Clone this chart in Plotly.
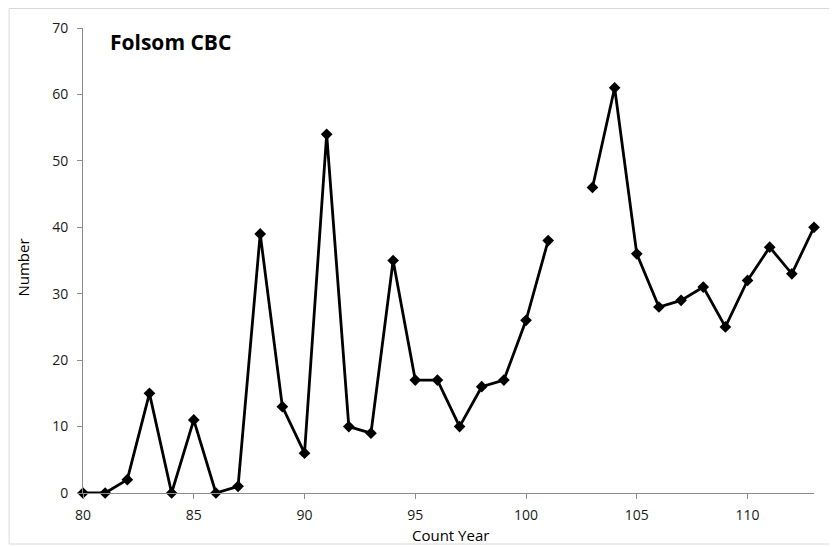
import plotly.graph_objects as go

years = list(range(80, 114))
counts = [0, 0, 2, 15, 0, 11, 0, 1, 39, 13, 6, 54, 10, 9, 35, 17, 17, 10, 16, 17, 26, 38,
          None, 46, 61, 36, 28, 29, 31, 25, 32, 37, 33, 40]
x_ticks = [80, 85, 90, 95, 100, 105, 110]
y_ticks = [0, 10, 20, 30, 40, 50, 60, 70]

L, T, W, H = 74.5, 20, 732, 465
R = 837 - L - W
B = 547 - T - H

def px(xp):
    return (xp - L) / W

def py(yp):
    return 1 - (yp - T) / H

fig = go.Figure()
fig.add_trace(go.Scatter(
    x=years, y=counts, mode="lines+markers",
    line=dict(color="black", width=2.8),
    marker=dict(symbol="diamond", size=9, color="black"),
    connectgaps=False, showlegend=False, cliponaxis=False,
))

font_family = "Open Sans, Liberation Sans, sans-serif"
axis_common = dict(
    showgrid=False, zeroline=False,
    showline=True, linecolor="#8c8c8c", linewidth=1,
    ticks="outside", ticklen=5, tickcolor="#8c8c8c",
    tickfont=dict(size=14, color="#1a1a1a"),
)
fig.update_layout(
    width=837, height=547,
    margin=dict(l=L, r=R, t=T, b=B, autoexpand=False),
    paper_bgcolor="white", plot_bgcolor="white",
    font=dict(family=font_family, size=14, color="black"),
    xaxis=dict(range=[80, 113], tickvals=x_ticks, ticklabelstandoff=4, **axis_common),
    yaxis=dict(range=[0, 70], tickvals=y_ticks, ticklabelstandoff=6, **axis_common),
    annotations=[
        dict(text="<b>Folsom CBC</b>", xref="paper", yref="paper",
             x=px(100), y=py(34), xanchor="left", yanchor="middle", showarrow=False,
             font=dict(size=21, family=font_family, color="black")),
        dict(text="Number", xref="paper", yref="paper", textangle=-90,
             x=px(14), y=py(260), xanchor="center", yanchor="middle", showarrow=False,
             font=dict(size=15, family=font_family, color="black")),
        dict(text="Count Year", xref="paper", yref="paper",
             x=px(443), y=py(527), xanchor="center", yanchor="middle", showarrow=False,
             font=dict(size=15, family=font_family, color="black")),
    ],
    shapes=[dict(
        type="rect", xref="paper", yref="paper",
        x0=px(0.5), x1=px(828), y0=py(536), y1=py(0.5),
        line=dict(color="#d9d9d9", width=1), fillcolor="rgba(0,0,0,0)", layer="below",
    )],
)

fig.write_html("out.html")
